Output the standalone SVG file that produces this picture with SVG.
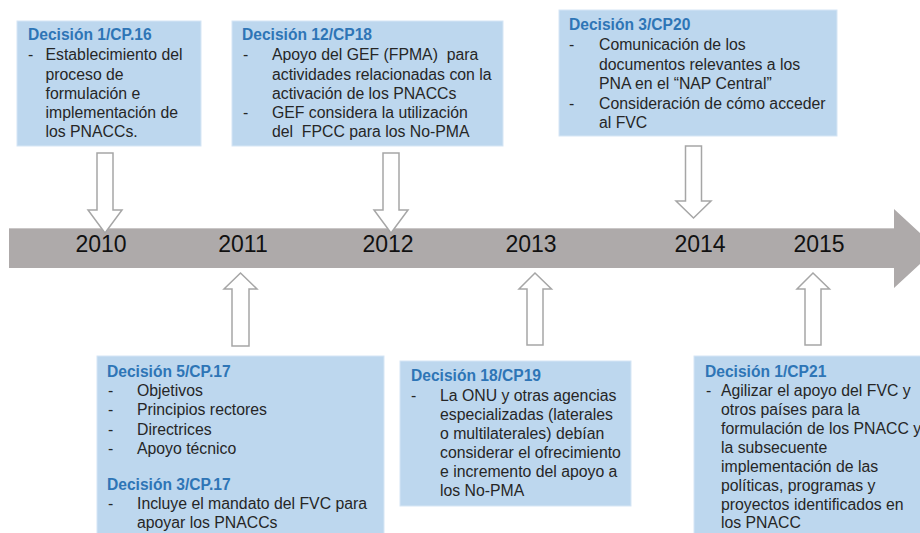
<svg xmlns="http://www.w3.org/2000/svg" width="920" height="533" viewBox="0 0 920 533">
<style>
  .box { fill: #BDD7EE; stroke: #D6E6F5; stroke-width: 1; }
  .ttl { font-family: "Liberation Sans", Arial, sans-serif; font-size: 15.6px; font-weight: bold; fill: #2E75B6; }
  .txt { font-family: "Liberation Sans", Arial, sans-serif; font-size: 15.8px; fill: #262626; white-space: pre; }
  .yr { font-family: "Liberation Sans", Arial, sans-serif; font-size: 23px; fill: #111; text-anchor: middle; }
  .harrow { fill: #FFFFFF; stroke: #A6A6A6; stroke-width: 1.5; stroke-linejoin: miter; }
</style>
<rect width="920" height="533" fill="#FFFFFF"/>

<g id="timeline">
  <polygon points="9,228 894,228 894,209 937,248.5 894,288 894,268 9,268" fill="#AEAAAA"/>
  <line x1="9" y1="228.5" x2="894" y2="228.5" stroke="#C9C6C6" stroke-width="1"/>
  <text class="yr" x="101" y="252">2010</text>
  <text class="yr" x="243" y="252">2011</text>
  <text class="yr" x="388" y="252">2012</text>
  <text class="yr" x="531" y="252">2013</text>
  <text class="yr" x="700" y="252">2014</text>
  <text class="yr" x="819" y="252">2015</text>
</g>

<g id="connectors">
  <polygon class="harrow" points="97,153 113,153 113,210 122,210 105,233 88,210 97,210"/>
  <polygon class="harrow" points="383,153 399,153 399,210 408,210 391,233 374,210 383,210"/>
  <polygon class="harrow" points="685.5,146 701.5,146 701.5,201 711,201 693.5,218 676,201 685.5,201"/>
  <polygon class="harrow" points="232,346 249,346 249,289 257,289 240.5,273 224,289 232,289"/>
  <polygon class="harrow" points="527,345 543,345 543,289 551.5,289 535,273 519,289 527,289"/>
  <polygon class="harrow" points="805,345 821,345 821,289 829.5,289 813,273 797,289 805,289"/>
</g>

<g id="d1-cp16">
  <rect class="box" x="17" y="21" width="184" height="125"/>
  <text class="ttl" x="28" y="40">Decisión 1/CP.16</text>
  <text class="txt" x="28" y="60">-</text>
  <text class="txt" x="45.5" y="60">Establecimiento del</text>
  <text class="txt" x="45.5" y="79.5">proceso de</text>
  <text class="txt" x="45.5" y="99">formulación e</text>
  <text class="txt" x="45.5" y="118">implementación de</text>
  <text class="txt" x="45.5" y="137">los PNACCs.</text>
</g>

<g id="d12-cp18">
  <rect class="box" x="232" y="21" width="271" height="125"/>
  <text class="ttl" x="242" y="40">Decisión 12/CP18</text>
  <text class="txt" x="243" y="60">-</text>
  <text class="txt" x="272" y="60">Apoyo del GEF (FPMA)  para</text>
  <text class="txt" x="272" y="79.5">actividades relacionadas con la</text>
  <text class="txt" x="272" y="99">activación de los PNACCs</text>
  <text class="txt" x="243" y="118">-</text>
  <text class="txt" x="272" y="118">GEF considera la utilización</text>
  <text class="txt" x="272" y="137">del  FPCC para los No-PMA</text>
</g>

<g id="d3-cp20">
  <rect class="box" x="559" y="10" width="278" height="126"/>
  <text class="ttl" x="569" y="30">Decisión 3/CP20</text>
  <text class="txt" x="569" y="50">-</text>
  <text class="txt" x="599" y="50">Comunicación de los</text>
  <text class="txt" x="599" y="69.5">documentos relevantes a los</text>
  <text class="txt" x="599" y="89">PNA en el “NAP Central”</text>
  <text class="txt" x="569" y="108.5">-</text>
  <text class="txt" x="599" y="108.5">Consideración de cómo acceder</text>
  <text class="txt" x="599" y="128">al FVC</text>
</g>

<g id="d5-cp17">
  <rect class="box" x="97" y="356" width="287" height="185"/>
  <text class="ttl" x="107" y="376.5">Decisión 5/CP.17</text>
  <text class="txt" x="108" y="396">-</text>
  <text class="txt" x="137" y="396">Objetivos</text>
  <text class="txt" x="108" y="415">-</text>
  <text class="txt" x="137" y="415">Principios rectores</text>
  <text class="txt" x="108" y="434.5">-</text>
  <text class="txt" x="137" y="434.5">Directrices</text>
  <text class="txt" x="108" y="454">-</text>
  <text class="txt" x="137" y="454">Apoyo técnico</text>
  <text class="ttl" x="107" y="489.5">Decisión 3/CP.17</text>
  <text class="txt" x="108" y="508.5">-</text>
  <text class="txt" x="137" y="508.5">Incluye el mandato del FVC para</text>
  <text class="txt" x="137" y="527.5">apoyar los PNACCs</text>
</g>

<g id="d18-cp19">
  <rect class="box" x="400" y="361" width="231" height="145"/>
  <text class="ttl" x="411" y="381">Decisión 18/CP19</text>
  <text class="txt" x="411" y="400.5">-</text>
  <text class="txt" x="440" y="400.5">La ONU y otras agencias</text>
  <text class="txt" x="440" y="419.5">especializadas (laterales</text>
  <text class="txt" x="440" y="438.5">o multilaterales) debían</text>
  <text class="txt" x="440" y="457.5">considerar el ofrecimiento</text>
  <text class="txt" x="440" y="476.5">e incremento del apoyo a</text>
  <text class="txt" x="440" y="495.5">los No-PMA</text>
</g>

<g id="d1-cp21">
  <rect class="box" x="694" y="356" width="240" height="185"/>
  <text class="ttl" x="705" y="376.5">Decisión 1/CP21</text>
  <text class="txt" x="706" y="395.5">-</text>
  <text class="txt" x="721" y="395.5">Agilizar el apoyo del FVC y</text>
  <text class="txt" x="721" y="414.5">otros países para la</text>
  <text class="txt" x="721" y="433.5">formulación de los PNACC y</text>
  <text class="txt" x="721" y="452.5">la subsecuente</text>
  <text class="txt" x="721" y="471.5">implementación de las</text>
  <text class="txt" x="721" y="490.5">políticas, programas y</text>
  <text class="txt" x="721" y="509.5">proyectos identificados en</text>
  <text class="txt" x="721" y="528">los PNACC</text>
</g>
</svg>
